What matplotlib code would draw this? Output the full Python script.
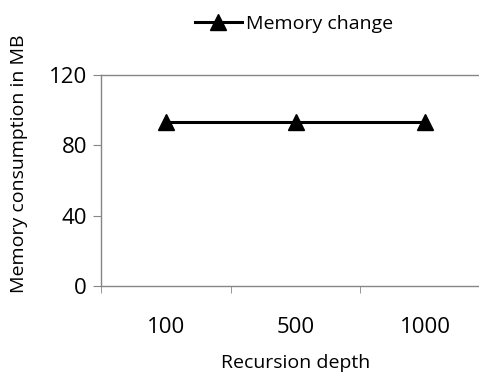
import matplotlib
matplotlib.use("Agg")
import matplotlib.pyplot as plt

depths = ["100", "500", "1000"]
memory_mb = [93, 93, 93]
y_ticks = [0, 40, 80, 120]

plt.rcParams["font.family"] = ["Open Sans", "DejaVu Sans"]
axis_grey = "#868686"

fig = plt.figure(figsize=(4.79, 3.72), dpi=100)
ax = fig.add_axes([101 / 479, 1 - 286 / 372, 389 / 479, 211 / 372])

x = list(range(len(depths)))
ax.plot(x, memory_mb, color="black", lw=2.2, marker="^", ms=12,
        label="Memory change")

ax.set_xlim(-0.5, len(depths) - 0.5)
ax.set_ylim(0, 120)
ax.set_yticks(y_ticks)
ax.set_xticks(x)
ax.set_xticklabels(depths)
ax.set_xticks([i - 0.5 for i in range(len(depths))], minor=True)
ax.tick_params(axis="x", which="major", length=0, pad=22, labelsize=16)
ax.tick_params(axis="x", which="minor", length=5, color=axis_grey)
ax.tick_params(axis="y", length=6, color=axis_grey, labelsize=16, pad=4)

for side in ["left", "bottom", "top"]:
    ax.spines[side].set_color(axis_grey)
    ax.spines[side].set_linewidth(1)
ax.spines["right"].set_visible(False)

ax.set_xlabel("Recursion depth", fontsize=14, labelpad=12)
ax.set_ylabel("Memory consumption in MB", fontsize=14)
ax.yaxis.set_label_coords((28 - 101) / 389, (286 - 164) / 211)

ax.legend(loc="center", bbox_to_anchor=(294 / 479, 1 - 24 / 372),
          bbox_transform=fig.transFigure, frameon=False, fontsize=14,
          handlelength=2.4, handletextpad=0.2, borderaxespad=0)

fig.savefig("out.png", dpi=100)
